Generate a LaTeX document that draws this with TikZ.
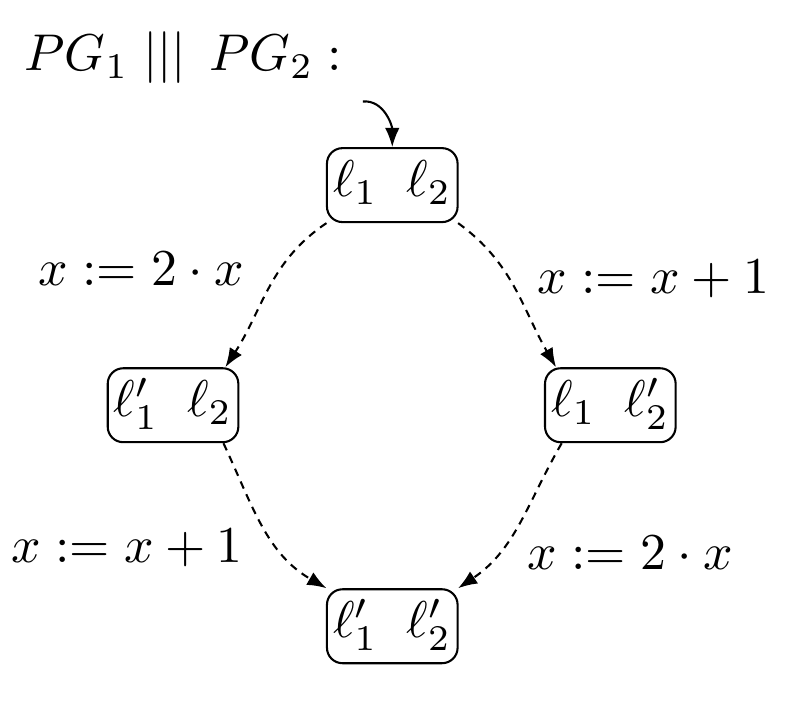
\documentclass[tikz,border=0pt]{standalone}
\usepackage{amsmath, amssymb}
\usepackage{tikz}
\usetikzlibrary{arrows.meta, positioning}

\begin{document}
\begin{tikzpicture}[
        loc/.style={draw, rounded corners=3pt, inner xsep=1.2pt, inner ysep=2.4pt,
            text height=7pt, text depth=2.5pt, minimum width=25.2pt},
        tip/.style={-{Latex[length=3.7pt,width=2.8pt]}},
        trans/.style={tip, dash pattern=on 1.5pt off 1.2pt}
    ]
        \useasboundingbox (0,0) rectangle (5.41,4.78);

        \node[anchor=base west, inner sep=0pt] (title) at (0.16,4.3) {$PG_1 \mathrel{|||}\, PG_2 :$};

        \node[loc] (l1l2) at (2.666,3.522) {$\ell_1\;\;\ell_2$};
        \node[loc] (l1pl2) at (1.176,2.026) {$\ell_1'\;\;\ell_2$};
        \node[loc] (l1l2p) at (4.148,2.026) {$\ell_1\;\;\ell_2'$};
        \node[loc] (l1pl2p) at (2.666,0.524) {$\ell_1'\;\;\ell_2'$};

        % initial location
        \coordinate[above left=0.31cm and 0.2cm of l1l2.north] (init);
        \draw[tip] (init) to[out=5,in=90] (l1l2.north);

        \draw[trans] (l1l2.210) to[out=-146,in=57] (l1pl2.36);
        \draw[trans] (l1l2.-30) to[out=-36,in=120] (l1l2p.145);
        \draw[trans] (l1pl2.-37) to[out=-65,in=150] (l1pl2p.150);
        \draw[trans] (l1l2p.218) to[out=-120,in=34] (l1pl2p.30);

        \node[anchor=base] (a1) at (0.962,2.842) {$x := 2 \cdot x$};
        \node[anchor=base] (a2) at (4.44,2.788) {$x := x + 1$};
        \node[anchor=base] (a3) at (0.864,0.959) {$x := x + 1$};
        \node[anchor=base] (a4) at (4.284,0.911) {$x := 2 \cdot x$};
    \end{tikzpicture}
\end{document}
